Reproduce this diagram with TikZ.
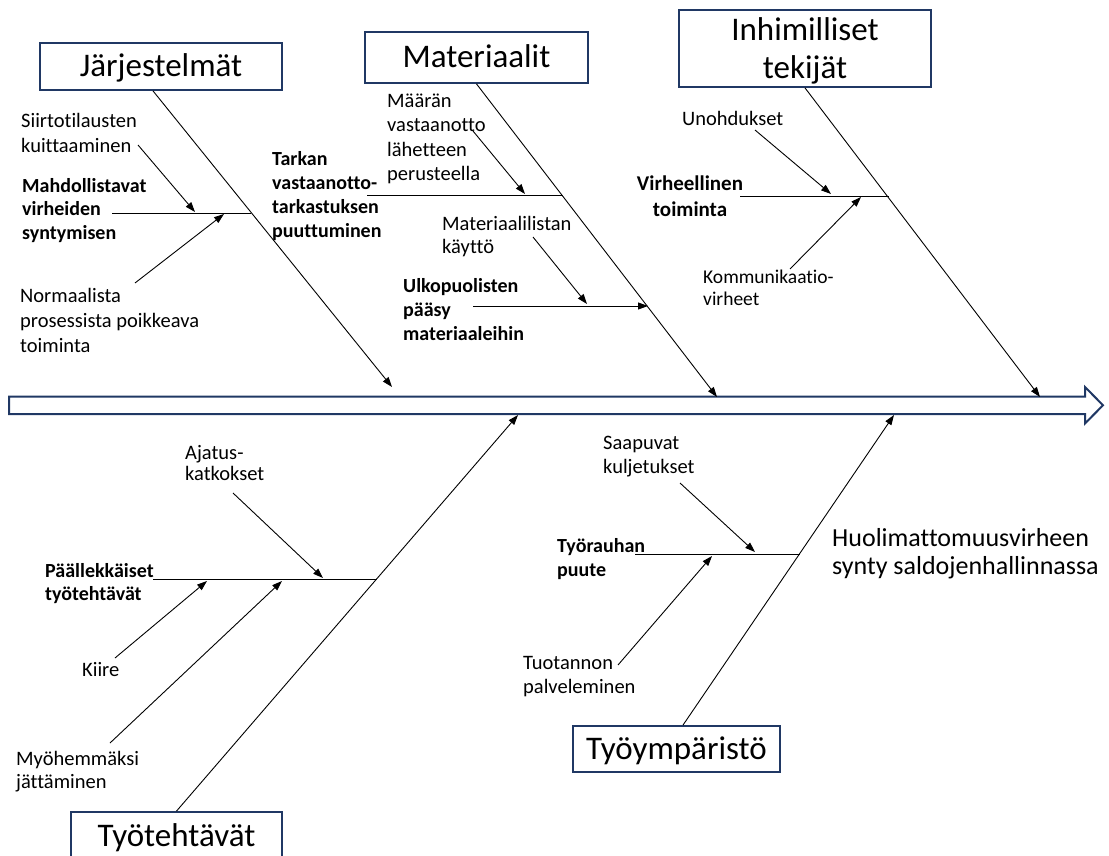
\documentclass[tikz,border=0pt]{standalone}
\usepackage{fontspec}
\setmainfont{Carlito}[Ligatures={NoCommon}]
\usetikzlibrary{arrows.meta,calc}
\definecolor{navy}{RGB}{32,56,100}
\newcommand{\lblstrut}{\rule{0pt}{16pt}}
\newcommand{\capstrut}{\rule{0pt}{20pt}}
\begin{document}
\begin{tikzpicture}[x=1pt,y=-1pt,
  catbox/.style={draw=navy,line width=1.8pt,fill=white,inner sep=0pt,align=center,font=\fontsize{33}{38}\selectfont},
  bone/.style={line width=0.9pt,-{Triangle[length=10pt,width=7pt]}},
  subbone/.style={line width=0.9pt},
  cause/.style={line width=0.9pt,-{Triangle[length=10pt,width=7pt]}},
  lbl/.style={anchor=north west,inner sep=0pt,align=left,font=\fontsize{20.5}{25}\selectfont},
  blbl/.style={anchor=north west,inner sep=0pt,align=left,font=\fontsize{20}{24}\selectfont\bfseries},
]
\useasboundingbox (0,0) rectangle (1109,856);

% spine
\draw[navy,line width=2pt,fill=white,line join=miter] (9,396.5) -- (1085,396.5) -- (1085,387) -- (1103,405.25) -- (1085,423.5) -- (1085,414) -- (9,414) -- cycle;

% category boxes
\node[catbox,minimum width=242pt,minimum height=47pt,text height=24pt,text depth=3pt] (jar) at (161,66.5) {Järjestelmät};
\node[catbox,minimum width=223pt,minimum height=51pt,text height=24pt,text depth=3pt] (mat) at (476.5,57.5) {Materiaalit};
\node[catbox,minimum width=252pt,minimum height=77pt] (inh) at (805,48.5) {\rule{0pt}{28pt}Inhimilliset\\tekijät};
\node[catbox,minimum width=211pt,minimum height=48pt,text height=24pt,text depth=3pt] (tyot) at (176.5,836) {Työtehtävät};
\node[catbox,minimum width=207pt,minimum height=46pt,text height=24pt,text depth=3pt] (tyoy) at (676.5,749) {Työympäristö};

% spine targets
\coordinate (sj) at (392,387);
\coordinate (sm) at (717,397);
\coordinate (si) at (1040,397);
\coordinate (st) at (518,415);
\coordinate (se) at (894,415);

% main bones
\draw[bone] ([xshift=-8pt]jar.south) -- (sj);
\draw[bone] (mat.south) -- (sm);
\draw[bone] (inh.south) -- (si);
\draw[bone] (tyot.north) -- (st);
\draw[bone] ([xshift=6.5pt]tyoy.north) -- (se);

% sub-bones
\coordinate (j1a) at (112,213); \coordinate (j1b) at (251,213);
\coordinate (m1a) at (367,195); \coordinate (m1b) at (563,195);
\coordinate (m2a) at (473,306); \coordinate (m2b) at (648,306);
\coordinate (i1a) at (740,196); \coordinate (i1b) at (889,196);
\coordinate (t1a) at (153,579); \coordinate (t1b) at (377,579);
\coordinate (e1a) at (635,554); \coordinate (e1b) at (800,554);
\draw[subbone] (j1a) -- (j1b);
\draw[subbone] (m1a) -- (m1b);
\draw[cause] (m2a) -- (m2b);
\draw[subbone] (i1a) -- (i1b);
\draw[subbone] (t1a) -- (t1b);
\draw[subbone] (e1a) -- (e1b);

% cause arrows
\coordinate (c1a) at (138,145); \coordinate (c1b) at (195,212);
\coordinate (c2a) at (135,283); \coordinate (c2b) at (224,214);
\coordinate (c3a) at (473,131); \coordinate (c3b) at (525,194);
\coordinate (c4a) at (533,237); \coordinate (c4b) at (587,304);
\coordinate (c5a) at (755,130); \coordinate (c5b) at (831,194);
\coordinate (c6a) at (790,269); \coordinate (c6b) at (861,197);
\coordinate (c7a) at (233,493); \coordinate (c7b) at (323,578);
\coordinate (c8a) at (115,658); \coordinate (c8b) at (207,581);
\coordinate (c9a) at (110,743); \coordinate (c9b) at (282,581);
\coordinate (c10a) at (680,483); \coordinate (c10b) at (755,552);
\coordinate (c11a) at (618,665); \coordinate (c11b) at (712,556);
\foreach \i in {1,...,11} {\draw[cause] (c\i a) -- (c\i b);}

% labels
\node[lbl] (l1) at (21,111) {\lblstrut Siirtotilausten\\kuittaaminen};
\node[blbl,font=\fontsize{20}{23.5}\selectfont\bfseries] (l2) at (22,176) {\lblstrut Mahdollistavat\\virheiden\\syntymisen};
\node[lbl] (l3) at (20,286) {\lblstrut Normaalista\\prosessista poikkeava\\toiminta};
\node[blbl] (l4) at (272,149) {\lblstrut Tarkan\\vastaanotto-\\tarkastuksen\\puuttuminen};
\node[lbl,font=\fontsize{20.5}{24.5}\selectfont] (l5) at (387,91) {\lblstrut Määrän\\vastaanotto\\lähetteen\\perusteella};
\node[lbl,font=\fontsize{20.5}{23.5}\selectfont] (l6) at (442,214) {\lblstrut Materiaalilistan\\käyttö};
\node[blbl] (l7) at (403,276) {\lblstrut Ulkopuolisten\\pääsy\\materiaaleihin};
\node[lbl] (l8) at (682,109) {\lblstrut Unohdukset};
\node[blbl,anchor=north,align=center,font=\fontsize{21}{26}\selectfont\bfseries] (l9) at (690,174) {\lblstrut Virheellinen\\toiminta};
\node[lbl,font=\fontsize{19.5}{22}\selectfont] (l10) at (703,267) {\lblstrut Kommunikaatio-\\virheet};
\node[lbl,font=\fontsize{20.5}{21.5}\selectfont] (l11) at (185,443) {\lblstrut Ajatus-\\katkokset};
\node[blbl,font=\fontsize{20}{23}\selectfont\bfseries] (l12) at (45,561) {\lblstrut Päällekkäiset\\työtehtävät};
\node[lbl] (l13) at (82,660) {\lblstrut Kiire};
\node[lbl,font=\fontsize{20.5}{23}\selectfont] (l14) at (16,749) {\lblstrut Myöhemmäksi\\jättäminen};
\node[lbl,font=\fontsize{20.5}{24}\selectfont] (l15) at (603,433) {\lblstrut Saapuvat\\kuljetukset};
\node[blbl] (l16) at (557,536) {\lblstrut Työrauhan\\puute};
\node[lbl,font=\fontsize{20.5}{24}\selectfont] (l17) at (523,653) {\lblstrut Tuotannon\\palveleminen};
\node[lbl,font=\fontsize{26}{28}\selectfont] (cap) at (832,526) {\capstrut Huolimattomuusvirheen\\synty saldojenhallinnassa};
\end{tikzpicture}
\end{document}
